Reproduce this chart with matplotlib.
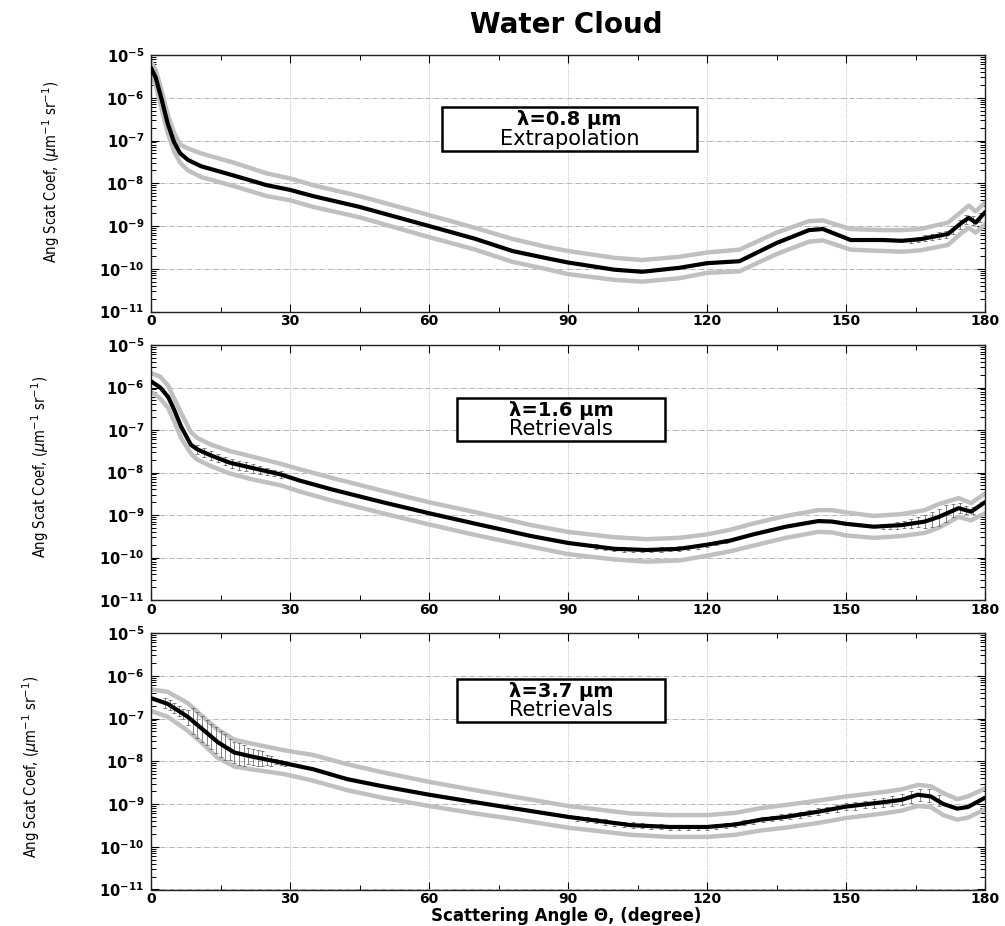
import numpy as np
import matplotlib.pyplot as plt
from matplotlib.patches import Rectangle
from matplotlib.ticker import LogLocator, NullFormatter

# ---- lambda = 0.8 um (extrapolation) ----
ang1 = [0, 1, 2.2, 3.6, 5, 6.3, 8, 10.8, 18, 25, 30, 35, 45, 60, 70, 78, 85, 90,
        100, 106, 114, 120, 127, 135, 142, 145, 151, 158, 162, 166, 172, 175,
        176.5, 178, 180]
mean1 = [5e-6, 3e-6, 1e-6, 2.5e-7, 9e-8, 5e-8, 3.5e-8, 2.5e-8, 1.5e-8, 9e-9, 7e-9,
         5e-9, 2.8e-9, 1e-9, 5e-10, 2.6e-10, 1.8e-10, 1.4e-10, 9.5e-11, 8.5e-11,
         1.05e-10, 1.35e-10, 1.5e-10, 4e-10, 8e-10, 8.5e-10, 4.7e-10, 4.7e-10,
         4.5e-10, 4.9e-10, 6.5e-10, 1.2e-9, 1.55e-9, 1.2e-9, 2.1e-9]
up1 = [7e-6, 4.5e-6, 1.6e-6, 4e-7, 1.5e-7, 8e-8, 6.5e-8, 5e-8, 3e-8, 1.7e-8, 1.3e-8,
       9e-9, 5e-9, 1.8e-9, 9e-10, 5e-10, 3.3e-10, 2.6e-10, 1.8e-10, 1.6e-10,
       1.9e-10, 2.4e-10, 2.8e-10, 7e-10, 1.3e-9, 1.35e-9, 8.5e-10, 8e-10, 8e-10,
       8.5e-10, 1.2e-9, 2.2e-9, 3e-9, 2.2e-9, 3.5e-9]
lo1 = [3.5e-6, 2e-6, 6e-7, 1.5e-7, 5.5e-8, 3e-8, 2e-8, 1.4e-8, 8.5e-9, 5e-9, 4e-9,
       2.8e-9, 1.6e-9, 5.5e-10, 2.8e-10, 1.45e-10, 1e-10, 7.5e-11, 5.5e-11, 5e-11,
       6e-11, 8e-11, 8.7e-11, 2.2e-10, 4.3e-10, 4.6e-10, 2.8e-10, 2.6e-10,
       2.5e-10, 2.7e-10, 3.6e-10, 7e-10, 9e-10, 7e-10, 1.1e-9]
err1_x = [164, 165.5, 167, 168.5, 170, 171.5, 173, 174.5, 176, 177.5, 179]
err1_c = [-9.33, -9.31, -9.29, -9.26, -9.23, -9.2, -9.1, -8.97, -8.85, -8.87, -8.8]
err1_h = [0.06, 0.06, 0.07, 0.07, 0.08, 0.08, 0.09, 0.1, 0.1, 0.1, 0.1]

# ---- lambda = 1.6 um (retrievals) ----
ang2 = [0, 2, 3.7, 5, 6.5, 8.6, 10, 13, 17, 21.6, 28, 32, 39, 50, 60, 71, 82, 90,
        100, 107, 114, 120, 125, 130, 137, 144, 147, 150, 156, 162, 167, 170,
        174.3, 177, 180]
mean2 = [1.4e-6, 1e-6, 6e-7, 3e-7, 1.2e-7, 4.5e-8, 3.5e-8, 2.5e-8, 1.7e-8, 1.3e-8,
         9e-9, 6.5e-9, 4e-9, 2e-9, 1.1e-9, 5.9e-10, 3.2e-10, 2.2e-10, 1.6e-10,
         1.5e-10, 1.6e-10, 2e-10, 2.5e-10, 3.5e-10, 5.3e-10, 7.2e-10, 7e-10,
         6.2e-10, 5.3e-10, 5.8e-10, 7e-10, 9e-10, 1.45e-9, 1.2e-9, 2e-9]
up2 = [2.2e-6, 1.8e-6, 1.1e-6, 5.5e-7, 2.5e-7, 9e-8, 6.5e-8, 4.5e-8, 3.2e-8, 2.4e-8,
       1.6e-8, 1.2e-8, 7.5e-9, 3.7e-9, 2e-9, 1.1e-9, 5.8e-10, 4e-10, 3e-10,
       2.7e-10, 2.9e-10, 3.5e-10, 4.5e-10, 6.3e-10, 9.5e-10, 1.3e-9, 1.3e-9,
       1.15e-9, 9.5e-10, 1.05e-9, 1.3e-9, 1.8e-9, 2.5e-9, 1.9e-9, 3.2e-9]
lo2 = [8e-7, 5.5e-7, 3.3e-7, 1.6e-7, 6.5e-8, 2.8e-8, 2e-8, 1.4e-8, 9.5e-9, 7e-9,
       5e-9, 3.6e-9, 2.2e-9, 1.1e-9, 6e-10, 3.2e-10, 1.8e-10, 1.2e-10, 9e-11,
       8e-11, 8.5e-11, 1.1e-10, 1.4e-10, 1.9e-10, 2.9e-10, 4e-10, 3.9e-10,
       3.3e-10, 2.9e-10, 3.2e-10, 3.8e-10, 5e-10, 9e-10, 7.5e-10, 1.1e-9]
err2_x = [10, 11.5, 13, 14.5, 16, 17.5, 19, 20.5, 22, 23.5, 25, 26.5, 28,
          96, 98, 100, 102, 104, 106, 108, 110, 112, 114, 116, 118, 120, 122, 124,
          158, 159.5, 161, 162.5, 164, 165.5, 167, 168.5, 170, 171.5, 173, 174.5,
          176, 177.5]
err2_c = [-7.46, -7.53, -7.6, -7.66, -7.73, -7.79, -7.83, -7.86, -7.9, -7.94, -7.98,
          -8.01, -8.05,
          -9.74, -9.77, -9.8, -9.81, -9.82, -9.82, -9.82, -9.81, -9.8, -9.79, -9.77,
          -9.74, -9.7, -9.66, -9.62,
          -9.27, -9.26, -9.25, -9.23, -9.2, -9.17, -9.15, -9.1, -9.05, -8.97, -8.9,
          -8.84, -8.88, -8.9]
err2_h = [0.1, 0.1, 0.1, 0.1, 0.1, 0.1, 0.1, 0.1, 0.1, 0.1, 0.08, 0.08, 0.08,
          0.05, 0.05, 0.05, 0.05, 0.05, 0.05, 0.05, 0.05, 0.05, 0.05, 0.05, 0.05,
          0.05, 0.05, 0.05,
          0.06, 0.06, 0.08, 0.08, 0.1, 0.12, 0.15, 0.18, 0.2, 0.2, 0.15, 0.12,
          0.1, 0.08]

# ---- lambda = 3.7 um (retrievals) ----
ang3 = [0, 3.6, 7.9, 10.8, 14.4, 18, 21.6, 28.8, 35, 42.4, 50, 60, 70, 78, 90,
        103.6, 112, 120, 126, 131.6, 137, 144, 150, 158, 162, 165.5, 168.3, 171,
        174, 176.3, 180]
mean3 = [3e-7, 2.2e-7, 1.1e-7, 6e-8, 2.8e-8, 1.6e-8, 1.3e-8, 9e-9, 6.5e-9, 3.8e-9,
         2.6e-9, 1.65e-9, 1.1e-9, 8e-10, 5e-10, 3.2e-10, 2.9e-10, 2.9e-10, 3.3e-10,
         4.3e-10, 5e-10, 6.6e-10, 8.7e-10, 1.1e-9, 1.25e-9, 1.65e-9, 1.5e-9, 1e-9,
         7.8e-10, 8.5e-10, 1.4e-9]
up3 = [4.8e-7, 4.2e-7, 2.3e-7, 1.2e-7, 5.5e-8, 3.2e-8, 2.6e-8, 1.8e-8, 1.4e-8,
       8.5e-9, 5.5e-9, 3.3e-9, 2.1e-9, 1.5e-9, 9e-10, 6e-10, 5.5e-10, 5.5e-10,
       6.2e-10, 8e-10, 9.5e-10, 1.2e-9, 1.5e-9, 1.9e-9, 2.2e-9, 2.8e-9, 2.6e-9,
       1.8e-9, 1.3e-9, 1.5e-9, 2.3e-9]
lo3 = [1.5e-7, 1.1e-7, 5.2e-8, 2.8e-8, 1.2e-8, 7.5e-9, 6.5e-9, 5e-9, 3.5e-9, 2.1e-9,
       1.4e-9, 9e-10, 6e-10, 4.5e-10, 2.8e-10, 1.9e-10, 1.7e-10, 1.7e-10, 1.9e-10,
       2.4e-10, 2.8e-10, 3.6e-10, 4.7e-10, 6e-10, 7e-10, 9e-10, 8.5e-10, 5.5e-10,
       4.3e-10, 4.8e-10, 7.5e-10]
err3_x = [3, 4, 5, 6, 7, 8, 9, 10, 11, 12, 13, 14, 15, 16, 17, 18, 19, 20, 21, 22,
          23, 24, 25, 26, 27, 28, 29,
          92, 94, 96, 98, 100, 102, 104, 106, 108, 110, 112, 114, 116, 118, 120,
          122, 124, 126, 128, 130, 132, 134, 136, 138, 140, 142, 144, 146, 148,
          150, 152, 154, 156, 158, 160, 162, 164, 166, 168, 170]
err3_c = [-6.64, -6.68, -6.75, -6.82, -6.89, -6.97, -7.06, -7.15, -7.24, -7.33,
          -7.42, -7.51, -7.59, -7.67, -7.73, -7.8, -7.83, -7.86, -7.88, -7.9, -7.92,
          -7.94, -7.97, -7.99, -8.01, -8.03, -8.05,
          -9.33, -9.36, -9.39, -9.42, -9.45, -9.47, -9.49, -9.51, -9.52, -9.53,
          -9.54, -9.54, -9.54, -9.54, -9.54, -9.52, -9.5, -9.48, -9.44, -9.4,
          -9.36, -9.33, -9.31, -9.28, -9.25, -9.22, -9.18, -9.14, -9.1, -9.06,
          -9.04, -9.01, -8.99, -8.96, -8.93, -8.9, -8.84, -8.79, -8.8, -8.92]
err3_h = [0.12, 0.12, 0.12, 0.12, 0.12, 0.18, 0.3, 0.3, 0.3, 0.3, 0.3, 0.3, 0.3,
          0.3, 0.25, 0.25, 0.25, 0.25, 0.18, 0.18, 0.18, 0.18, 0.12, 0.12, 0.06,
          0.06, 0.06,
          0.06, 0.06, 0.06, 0.06, 0.06, 0.06, 0.06, 0.06, 0.06, 0.06, 0.06, 0.06,
          0.06, 0.06, 0.06, 0.06, 0.06, 0.06, 0.06, 0.06, 0.06, 0.06, 0.07, 0.07,
          0.07, 0.07, 0.08, 0.08, 0.08, 0.08, 0.09, 0.09, 0.1, 0.1, 0.12, 0.13,
          0.14, 0.15, 0.15, 0.12]

box_line1 = [u"\u03bb=0.8 \u00b5m", u"\u03bb=1.6 \u00b5m", u"\u03bb=3.7 \u00b5m"]
box_line2 = ["Extrapolation", "Retrievals", "Retrievals"]

xticks = [0, 30, 60, 90, 120, 150, 180]
yticks = [1e-11, 1e-10, 1e-9, 1e-8, 1e-7, 1e-6, 1e-5]
ytick_labels = [r"$\mathbf{10^{-%d}}$" % e for e in (11, 10, 9, 8, 7, 6, 5)]

W, H = 1005, 926
fig = plt.figure(figsize=(W / 100, H / 100), dpi=100)
plt.rcParams['mathtext.fontset'] = 'dejavusans'

# axes boxes in pixels: (top, bottom)
ax_px = [(55, 311.5), (345, 600), (633, 889.5)]
left_px, right_px = 151, 985
# text boxes in pixels: (left, right, top, bottom)
box_px = [(442, 697, 107, 151), (457, 665, 398, 441), (457, 665, 679, 722)]
ylab_px = [(51, 172), (40, 467), (31, 767)]

panels = [(ang1, mean1, up1, lo1, err1_x, err1_c, err1_h),
          (ang2, mean2, up2, lo2, err2_x, err2_c, err2_h),
          (ang3, mean3, up3, lo3, err3_x, err3_c, err3_h)]

for i, (ang, mean, up, lo, ex, ec, eh) in enumerate(panels):
    top, bot = ax_px[i]
    ax = fig.add_axes([left_px / W, 1 - bot / H, (right_px - left_px) / W, (bot - top) / H])
    ax.set_yscale('log')
    ax.set_xlim(0, 180)
    ax.set_ylim(1e-11, 1e-5)

    ax.plot(ang, up, color='#c0c0c0', lw=3.2, solid_capstyle='round', zorder=2)
    ax.plot(ang, lo, color='#c0c0c0', lw=3.2, solid_capstyle='round', zorder=2)

    ec = np.array(ec)
    eh = np.array(eh)
    yc = 10 ** ec
    ax.errorbar(ex, yc, yerr=[yc - 10 ** (ec - eh), 10 ** (ec + eh) - yc], fmt='none',
                ecolor='#6e6e6e', elinewidth=0.6, capsize=1.6, capthick=0.6, zorder=3)

    ax.plot(ang, mean, color='black', lw=3.0, solid_capstyle='round', zorder=4)

    # ticks
    ax.set_xticks(xticks)
    ax.set_xticks([15, 45, 75, 105, 135, 165], minor=True)
    ax.set_xticklabels([str(t) for t in xticks], fontsize=10, fontweight='bold')
    ax.set_yticks(yticks)
    ax.set_yticklabels(ytick_labels, fontsize=10.5)
    ax.yaxis.set_minor_locator(LogLocator(base=10, subs=np.arange(2, 10), numticks=100))
    ax.yaxis.set_minor_formatter(NullFormatter())
    ax.tick_params(which='both', direction='in', top=True, right=True, colors='black')
    ax.tick_params(which='major', length=6, width=0.8, pad=5)
    ax.tick_params(axis='x', which='major', pad=2)
    ax.tick_params(which='minor', length=3.5, width=0.7)

    ax.grid(True, axis='y', which='major', color='#a8a8a8', lw=0.6, ls='-.')
    ax.grid(True, axis='x', which='major', color='#a8a8a8', lw=0.6, ls=':')
    for sp in ax.spines.values():
        sp.set_linewidth(1.0)
        sp.set_color('#202020')

    # label box
    bl, br, bt, bb = box_px[i]
    fx = lambda px: (px - left_px) / (right_px - left_px)
    fy = lambda py: (bot - py) / (bot - top)
    ax.add_patch(Rectangle((fx(bl), fy(bb)), fx(br) - fx(bl), fy(bt) - fy(bb),
                           transform=ax.transAxes, facecolor='white', edgecolor='black',
                           lw=1.8, zorder=5))
    cx = fx((bl + br) / 2)
    ax.text(cx, fy(bt + 0.28 * (bb - bt)), box_line1[i], transform=ax.transAxes,
            ha='center', va='center', fontsize=14, fontweight='bold', zorder=6)
    ax.text(cx, fy(bt + 0.73 * (bb - bt)), box_line2[i], transform=ax.transAxes,
            ha='center', va='center', fontsize=15, zorder=6)

    lx, ly = ylab_px[i]
    fig.text(lx / W, 1 - ly / H, r"Ang Scat Coef, ($\mu$m$^{-1}$ sr$^{-1}$)",
             rotation=90, ha='center', va='center', fontsize=10.5,
             family='DejaVu Sans', fontstretch='condensed')

fig.text(566 / W, 1 - 25 / H, "Water Cloud", ha='center', va='center',
         fontsize=20, fontweight='bold')
fig.text(566 / W, 1 - 916 / H, u"Scattering Angle \u0398, (degree)", ha='center',
         va='center', fontsize=12, fontweight='bold')

fig.savefig("out.png", dpi=100)
